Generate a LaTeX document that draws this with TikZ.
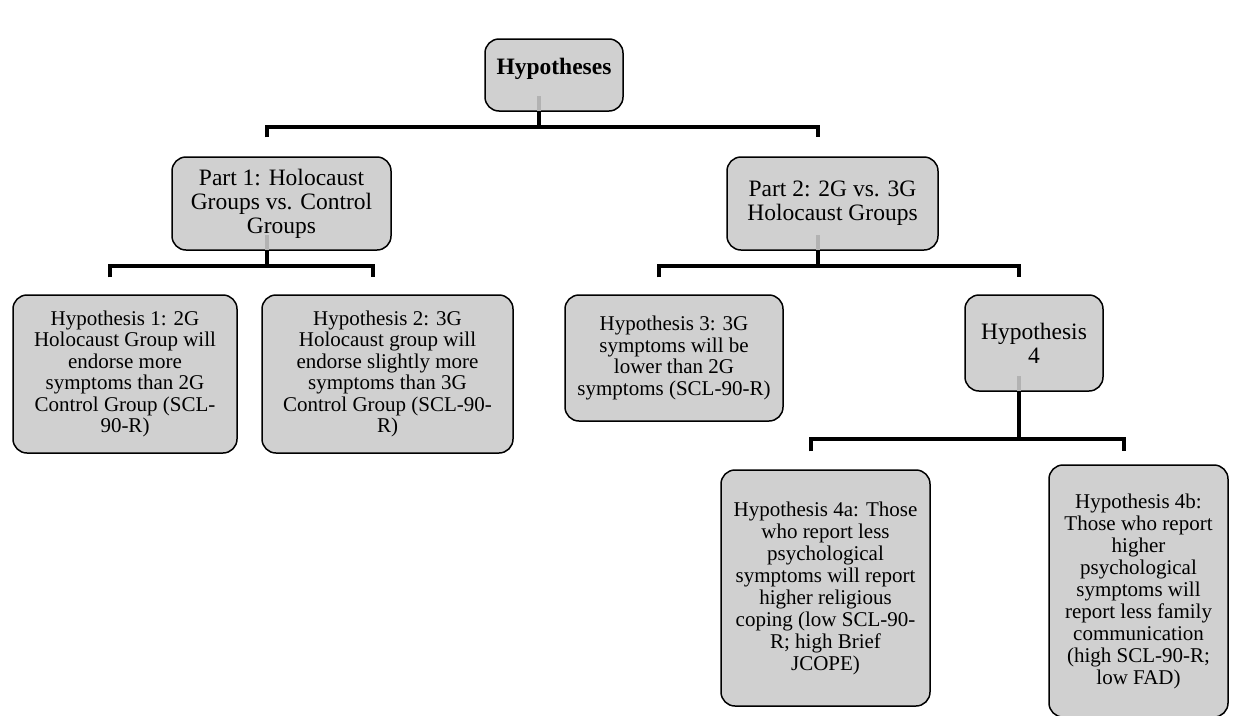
\documentclass[tikz,border=0pt]{standalone}
\usepackage{fontspec}
\setmainfont{Liberation Serif}
\usetikzlibrary{positioning}
\definecolor{boxfill}{RGB}{208,208,208}
\definecolor{stubgray}{RGB}{178,178,178}

\begin{document}
\begin{tikzpicture}[x=1pt,y=1pt,
  box/.style={draw=black, line width=1.5pt, rounded corners=14pt, fill=boxfill, align=center, inner sep=0pt},
  small/.style={font=\fontsize{21}{21.5}\selectfont},
  tall/.style={font=\fontsize{21}{22}\selectfont},
  big/.style={font=\fontsize{23.5}{24}\selectfont},
  trunk/.style={line width=4pt, black},
  stub/.style={line width=4pt, stubgray}]
\useasboundingbox (0,0) rectangle (1238,-715);
\node[box, big, minimum width=138, minimum height=72, text depth=18pt] (hyp) at (554,-75) {\textbf{Hypotheses}};
\node[box, big, minimum width=219, minimum height=93] (part1) at (281.5,-203.5) {Part 1: Holocaust\\Groups vs. Control\\Groups};
\node[box, big, minimum width=211, minimum height=93] (part2) at (832.5,-203.5) {Part 2: 2G vs. 3G\\Holocaust Groups};
\node[box, small, minimum width=224, minimum height=158] (h1) at (125,-374) {Hypothesis 1: 2G\\Holocaust Group will\\endorse more\\symptoms than 2G\\Control Group (SCL-\\90-R)};
\node[box, small, minimum width=251, minimum height=158] (h2) at (387.5,-374) {Hypothesis 2: 3G\\Holocaust group will\\endorse slightly more\\symptoms than 3G\\Control Group (SCL-90-\\R)};
\node[box, small, minimum width=218, minimum height=126] (h3) at (674,-358) {Hypothesis 3: 3G\\symptoms will be\\lower than 2G\\symptoms (SCL-90-R)};
\node[box, big, minimum width=138, minimum height=96] (h4) at (1034,-343) {Hypothesis\\4};
\node[box, tall, minimum width=209, minimum height=236] (h4a) at (825.5,-588) {Hypothesis 4a: Those\\who report less\\psychological\\symptoms will report\\higher religious\\coping (low SCL-90-\\R; high Brief\\JCOPE)};
\node[box, tall, minimum width=179, minimum height=252] (h4b) at (1138.5,-591) {Hypothesis 4b:\\Those who report\\higher\\psychological\\symptoms will\\report less family\\communication\\(high SCL-90-R;\\low FAD)};

% connectors
\draw[trunk] ([xshift=-15]hyp.south) -- ++(0,-15) coordinate (hypj);
\draw[trunk] ([xshift=-15,yshift=19]part1.north) |- (hypj) -| ([xshift=-15,yshift=19]part2.north);
\draw[trunk] ([xshift=-15]part1.south) -- ++(0,-15) coordinate (p1j);
\draw[trunk] ([xshift=-15,yshift=17]h1.north) |- (p1j) -| ([xshift=-15,yshift=17]h2.north);
\draw[trunk] ([xshift=-15]part2.south) -- ++(0,-15) coordinate (p2j);
\draw[trunk] ([xshift=-15,yshift=17]h3.north) |- (p2j) -| ([xshift=-15,yshift=17]h4.north);
\draw[trunk] ([xshift=-15]h4.south) -- ++(0,-47) coordinate (h4j);
\draw[trunk] ([xshift=-15,yshift=18]h4a.north) |- (h4j) -| ([xshift=-15,yshift=13]h4b.north);
\foreach \n in {hyp,part1,part2,h4}
  \draw[stub] ([xshift=-15,yshift=1]\n.south) -- ++(0,15);
\end{tikzpicture}
\end{document}
